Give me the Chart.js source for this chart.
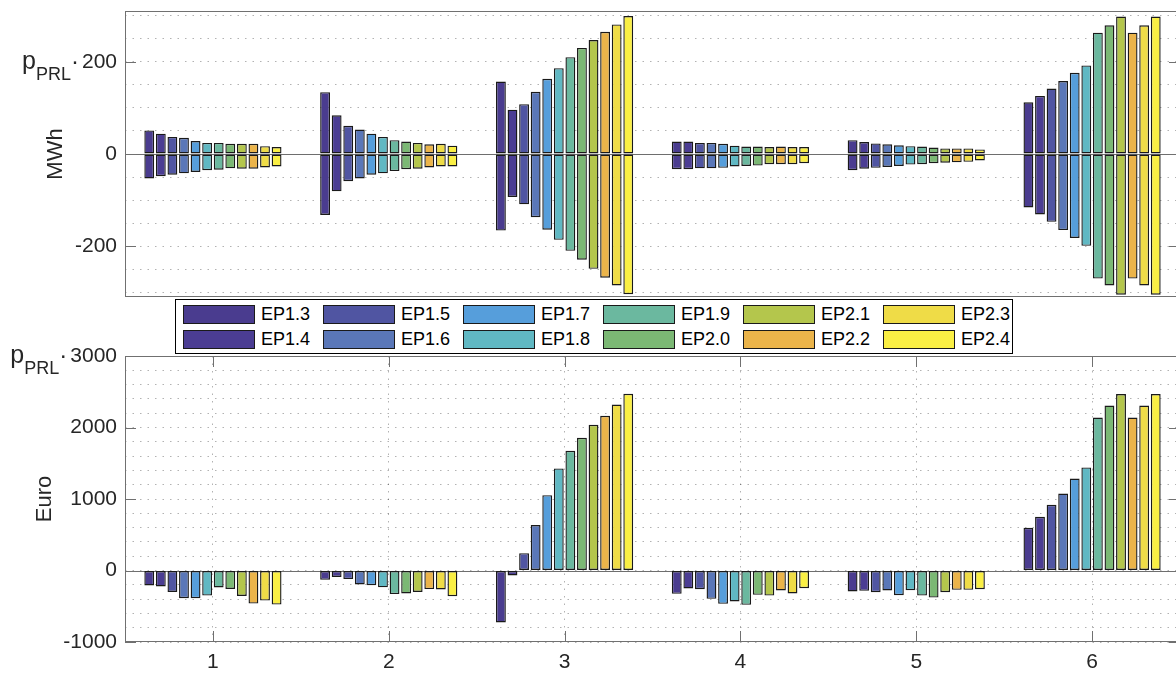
<!DOCTYPE html>
<html>
<head>
<meta charset="utf-8">
<title>p_PRL per block</title>
<script src="https://cdn.jsdelivr.net/npm/chart.js@4.4.1/dist/chart.umd.min.js"></script>
<style>
  html, body { margin: 0; padding: 0; background: #fff; overflow: hidden; }
  #stage { position: relative; width: 1176px; height: 673px; overflow: hidden; }
  .panel { position: absolute; left: 0; }
  #top-panel { top: 0; }
  #bottom-panel { top: 300px; }
  #legend {
    position: absolute; left: 175px; top: 299px; width: 838px; height: 55px;
    box-sizing: border-box; border: 1px solid #000; background: #fff; z-index: 5;
    font-family: 'Liberation Sans', Arial, sans-serif; font-size: 18px; color: #000;
  }
  .lg-item { position: absolute; display: flex; align-items: center; height: 19px; white-space: nowrap; }
  .lg-swatch { display: inline-block; width: 70px; height: 17px; border: 1px solid #1a1a1a; margin-right: 6px; }
</style>
</head>
<body>
<div id="stage">
  <canvas id="top-panel" class="panel" width="1182" height="300"></canvas>
  <canvas id="bottom-panel" class="panel" width="1182" height="373"></canvas>
  <div id="legend"></div>
</div>
<script>
// blocks on the x axis and the scenarios (one bar each per block)
const blocks = ['1', '2', '3', '4', '5', '6'];
const scenarios = ['EP1.3', 'EP1.4', 'EP1.5', 'EP1.6', 'EP1.7', 'EP1.8',
                   'EP1.9', 'EP2.0', 'EP2.1', 'EP2.2', 'EP2.3', 'EP2.4'];

// upper / lower reserve energy (MWh), one row per scenario, one column per block
const mwhUp = [
  [51, 134, 157, 27, 30, 112],
  [44,  84,  96, 27, 26, 126],
  [37,  61, 108, 24, 23, 142],
  [35,  53, 135, 24, 21, 158],
  [28,  44, 163, 22, 19, 176],
  [24,  37, 186, 18, 17, 192],
  [24,  30, 210, 16, 16, 263],
  [22,  27, 230, 16, 14, 279],
  [22,  24, 247, 15, 12, 298],
  [22,  21, 265, 16, 12, 263],
  [17,  22, 281, 15, 12, 279],
  [15,  18, 299, 15, 10, 298]
];
const mwhDown = [
  [-53, -132, -166, -33, -35, -116],
  [-48,  -81,  -93, -33, -32, -131],
  [-45,  -59, -109, -31, -30, -147],
  [-42,  -53, -137, -31, -28, -165],
  [-39,  -45, -164, -30, -26, -182],
  [-35,  -42, -186, -27, -23, -199],
  [-34,  -37, -210, -26, -22, -270],
  [-31,  -33, -229, -25, -20, -285],
  [-32,  -32, -249, -22, -19, -305],
  [-32,  -29, -268, -22, -18, -270],
  [-29,  -27, -285, -22, -17, -285],
  [-27,  -27, -304, -20, -14, -305]
];
// cost in Euro
const euro = [
  [-210, -130, -727, -326, -294,  597],
  [-224,  -90,  -70, -252, -284,  751],
  [-299, -120,  243, -261, -303,  919],
  [-387, -195,  635, -396, -280, 1077],
  [-387, -205, 1054, -466, -345, 1287],
  [-350, -235, 1427, -433, -275, 1441],
  [-238, -330, 1674, -480, -350, 2140],
  [-257, -320, 1856, -340, -378, 2308],
  [-355, -300, 2038, -350, -303, 2467],
  [-462, -260, 2164, -280, -270, 2140],
  [-420, -265, 2322, -322, -270, 2308],
  [-476, -360, 2471, -247, -261, 2467]
];

// labelled ticks (grid lines come every 50 / 200)
const mwhTickLabels = [-200, 0, 200];
const euroTickLabels = [-1000, 0, 1000, 2000, 3000];

const seriesColors = ['#4a3c8f', '#4b3d93', '#5055a2', '#5a77b8', '#569edb', '#60b8c3',
                      '#6bb89f', '#7bb874', '#b4c64c', '#ebb44a', '#efdc47', '#faef44'];

const FONT = "'Liberation Sans', Arial, sans-serif";
const TEXT = '#262626';
const GRID = 'rgba(0,0,0,0.3)';
const TICK_LEN = 11;

const barStyle = {
  borderColor: '#1a1a1a', borderWidth: 1.4, borderSkipped: false,
  categoryPercentage: 0.79, barPercentage: 0.85
};

// matlab-like frame: zero line, box, inward ticks and the p_PRL note
const matlabAxes = {
  id: 'matlabAxes',
  beforeDatasetsDraw(chart) {
    const { ctx, chartArea: a, scales: { y } } = chart;
    const y0 = Math.round(y.getPixelForValue(0)) + 0.5;
    ctx.save();
    ctx.strokeStyle = '#6e6e6e';
    ctx.lineWidth = 1.2;
    ctx.beginPath();
    ctx.moveTo(a.left, y0);
    ctx.lineTo(a.right, y0);
    ctx.stroke();
    ctx.restore();
  },
  afterDraw(chart, args, opts) {
    const { ctx, chartArea: a, scales: { x, y } } = chart;
    ctx.save();
    ctx.strokeStyle = '#707070';
    ctx.lineWidth = 1;
    ctx.strokeRect(a.left + 0.5, a.top + 0.5, a.right - a.left - 1, a.bottom - a.top - 1);

    ctx.beginPath();
    opts.yLabels.forEach(v => {
      const py = Math.round(y.getPixelForValue(v)) + 0.5;
      ctx.moveTo(a.left, py); ctx.lineTo(a.left + TICK_LEN, py);
      ctx.moveTo(a.right, py); ctx.lineTo(a.right - TICK_LEN, py);
    });
    if (opts.xTicks) {
      blocks.forEach((b, i) => {
        const px = Math.round(x.getPixelForValue(i)) + 0.5;
        ctx.moveTo(px, a.bottom); ctx.lineTo(px, a.bottom - TICK_LEN);
        ctx.moveTo(px, a.top); ctx.lineTo(px, a.top + TICK_LEN);
      });
    }
    ctx.stroke();

    // "p_PRL·" in front of the highest tick label
    const topVal = opts.yLabels[opts.yLabels.length - 1];
    ctx.font = '21px ' + FONT;
    const labelLeft = a.left - 8 - ctx.measureText(String(topVal)).width;
    const base = y.getPixelForValue(topVal) + 7;
    let xEnd = labelLeft - 3;
    ctx.fillStyle = TEXT;
    ctx.textAlign = 'right';
    ctx.textBaseline = 'alphabetic';
    ctx.font = '24px ' + FONT;
    ctx.fillText('·', xEnd, base);
    xEnd -= ctx.measureText('·').width;
    ctx.font = '18px ' + FONT;
    ctx.fillText('PRL', xEnd, base + 11);
    xEnd -= ctx.measureText('PRL').width;
    ctx.font = '25px ' + FONT;
    ctx.fillText('p', xEnd, base);
    ctx.restore();
  }
};

function yAxis(min, max, step, labels, title, titlePad) {
  return {
    min: min, max: max,
    afterFit: s => { s.width = 125; s.paddingTop = 0; s.paddingBottom = 0; },
    ticks: {
      stepSize: step, includeBounds: false, autoSkip: false, padding: 8,
      color: TEXT, font: { family: FONT, size: 21 },
      callback: v => labels.includes(v) ? String(v) : ''
    },
    grid: { color: GRID, lineWidth: 1, drawTicks: false },
    border: { display: false, dash: [1.5, 6] },
    title: { display: true, text: title, color: TEXT, font: { family: FONT, size: 22 }, padding: { top: titlePad, bottom: 0 } }
  };
}

// top panel: upper part and lower part of each bar are stacked on the same slot
const topSets = [];
scenarios.forEach((name, i) => {
  topSets.push({ label: name, data: mwhUp[i], stack: name, backgroundColor: seriesColors[i], ...barStyle });
  topSets.push({ label: name, data: mwhDown[i], stack: name, backgroundColor: seriesColors[i], ...barStyle });
});

new Chart(document.getElementById('top-panel'), {
  type: 'bar',
  data: { labels: blocks, datasets: topSets },
  options: {
    responsive: false, animation: false,
    layout: { padding: { top: 11, bottom: 3, left: 0, right: 2 } },
    plugins: { legend: { display: false }, tooltip: { enabled: false }, matlabAxes: { yLabels: mwhTickLabels, xTicks: false } },
    scales: {
      x: { display: false, offset: true },
      y: yAxis(-310, 310, 50, mwhTickLabels, 'MWh', 43)
    }
  },
  plugins: [matlabAxes]
});

// bottom panel: cost per scenario
new Chart(document.getElementById('bottom-panel'), {
  type: 'bar',
  data: {
    labels: blocks,
    datasets: scenarios.map((name, i) => ({ label: name, data: euro[i], backgroundColor: seriesColors[i], ...barStyle }))
  },
  options: {
    responsive: false, animation: false,
    layout: { padding: { top: 56, bottom: 0, left: 0, right: 2 } },
    plugins: { legend: { display: false }, tooltip: { enabled: false }, matlabAxes: { yLabels: euroTickLabels, xTicks: true } },
    scales: {
      x: {
        offset: true,
        afterFit: s => { s.height = 31; },
        ticks: { padding: 8, autoSkip: false, maxRotation: 0, color: TEXT, font: { family: FONT, size: 21 } },
        grid: { offset: false, color: GRID, lineWidth: 1, drawTicks: false },
        border: { display: false, dash: [1.5, 6] }
      },
      y: yAxis(-1000, 3000, 200, euroTickLabels, 'Euro', 32)
    }
  },
  plugins: [matlabAxes]
});

// legend, filled column by column like the original
const legendBox = document.getElementById('legend');
scenarios.forEach((name, i) => {
  const item = document.createElement('div');
  item.className = 'lg-item';
  item.style.left = (7 + 140 * Math.floor(i / 2)) + 'px';
  item.style.top = (5 + 25 * (i % 2)) + 'px';
  item.innerHTML = `<span class="lg-swatch" style="background:${seriesColors[i]}"></span>${name}`;
  legendBox.appendChild(item);
});
</script>
</body>
</html>
